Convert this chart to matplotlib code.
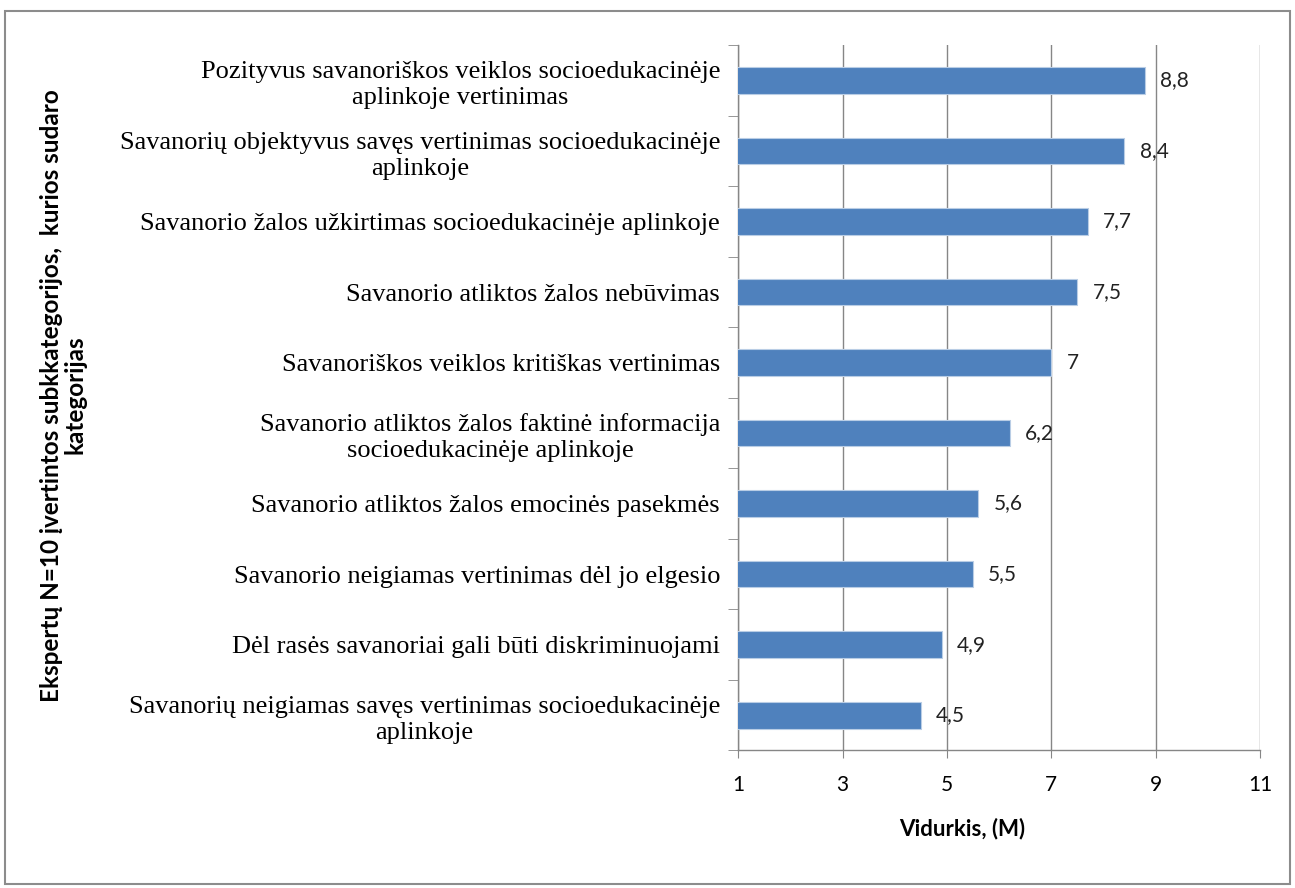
import matplotlib.pyplot as plt
import numpy as np
from matplotlib.patches import Rectangle

categories = [
    "Pozityvus savanoriškos veiklos socioedukacinėje\naplinkoje vertinimas",
    "Savanorių objektyvus savęs vertinimas socioedukacinėje\naplinkoje",
    "Savanorio žalos užkirtimas socioedukacinėje aplinkoje",
    "Savanorio atliktos žalos nebūvimas",
    "Savanoriškos veiklos kritiškas vertinimas",
    "Savanorio atliktos žalos faktinė informacija\nsocioedukacinėje aplinkoje",
    "Savanorio atliktos žalos emocinės pasekmės",
    "Savanorio neigiamas vertinimas dėl jo elgesio",
    "Dėl rasės savanoriai gali būti diskriminuojami",
    "Savanorių neigiamas savęs vertinimas socioedukacinėje\naplinkoje",
]
values = [8.8, 8.4, 7.7, 7.5, 7.0, 6.2, 5.6, 5.5, 4.9, 4.5]
x_ticks = [1, 3, 5, 7, 9, 11]

GRID = "#868686"
BAR = "#4F81BD"
SANS = "Lato"

fig = plt.figure(figsize=(12.95, 8.88), dpi=100)
ax = fig.add_axes([0.570, 0.155, 0.403, 0.794])

y = np.arange(len(categories))[::-1]
ax.barh(y, values, height=0.38, color=BAR, edgecolor="#B9CDE5", linewidth=0.8, zorder=3)

for yi, v in zip(y, values):
    txt = f"{v:g}".replace(".", ",")
    ax.annotate(txt, (v, yi), xytext=(11, 0), textcoords="offset points",
                va="center", ha="left", fontsize=15, family=SANS, color="#222222", zorder=4)

ax.set_xlim(1, 11)
ax.set_ylim(-0.5, len(categories) - 0.5)
ax.set_xticks(x_ticks)
ax.set_xticklabels([str(t) for t in x_ticks], fontsize=15, family=SANS)
ax.xaxis.grid(True, color=GRID, linewidth=1.0, zorder=0)

ax.set_yticks(y)
ax.set_yticklabels(categories, fontsize=19, family="Liberation Serif", linespacing=1.25)
for lbl in ax.get_yticklabels():
    lbl.set_multialignment("center")
ax.set_yticks(np.arange(-0.5, len(categories), 1.0), minor=True)
ax.tick_params(axis="y", which="major", length=0, pad=13)
ax.tick_params(axis="y", which="minor", length=7, color=GRID, direction="out")
ax.tick_params(axis="x", which="major", length=6, color=GRID, direction="out", pad=12)

for side in ["top", "right"]:
    ax.spines[side].set_visible(False)
for side in ["left", "bottom"]:
    ax.spines[side].set_color(GRID)
    ax.spines[side].set_linewidth(1.0)

ax.set_xlabel("Vidurkis, (M)", fontsize=16, fontweight="bold", family=SANS)
ax.xaxis.set_label_coords(0.43, -0.095)

fig.text(0.049, 0.555, "Ekspertų N=10 įvertintos subkkategorijos,  kurios sudaro\nkategorijas",
         rotation=90, ha="center", va="center", fontsize=17.5, fontweight="bold",
         family=SANS, multialignment="center", linespacing=1.05)

fig.patches.append(Rectangle((0.004, 0.004), 0.992, 0.984, transform=fig.transFigure,
                             fill=False, edgecolor="#8C8C8C", linewidth=1.5))

fig.savefig("out.png", dpi=100)
